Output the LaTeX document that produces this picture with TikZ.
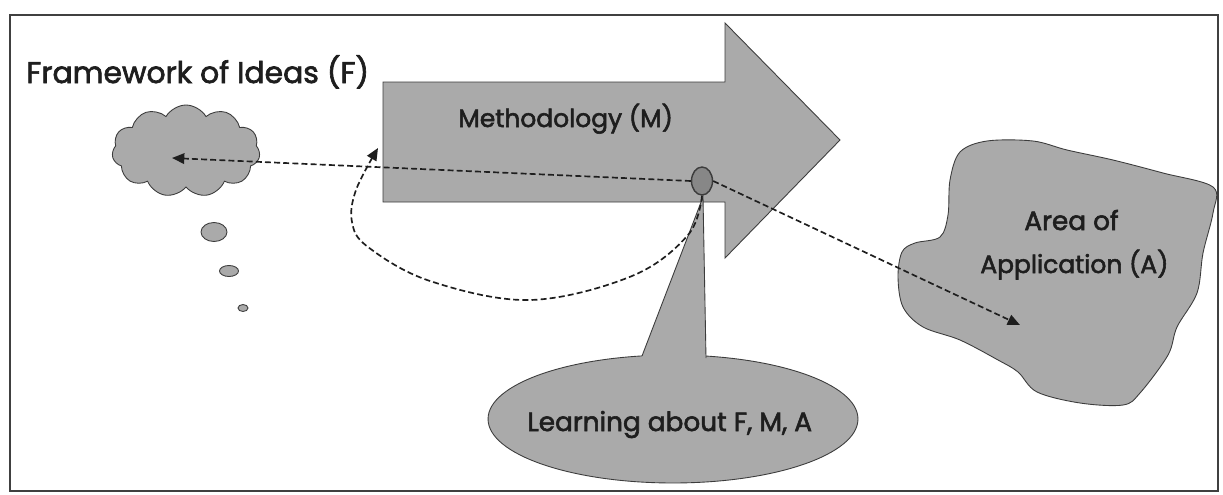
\documentclass[tikz,border=0pt]{standalone}
\usepackage{fontspec}
\setmainfont{Poppins}
\newfontfamily\labelfont{Poppins}[FakeBold=2.2]
\usetikzlibrary{shapes.geometric,shapes.symbols,arrows.meta}
\definecolor{boxgray}{RGB}{170,170,170}
\definecolor{dotfill}{RGB}{135,135,135}
\definecolor{edge}{RGB}{60,60,60}
\definecolor{ink}{RGB}{30,30,30}
\begin{document}
\begin{tikzpicture}[x=0.02cm,y=-0.02cm,
  shapefill/.style={fill=boxgray, draw=edge, line width=0.5pt},
  flow/.style={dash pattern=on 3.4pt off 1.8pt, line width=0.95pt, draw=ink,
    -{Triangle[length=7pt,width=6pt]}},
  lbl/.style={font=\labelfont\fontsize{15}{18}\selectfont, text=ink, inner sep=0pt, anchor=base west}]
\useasboundingbox (0,0) rectangle (1223,494);
\fill[white] (0,0) rectangle (1223,494);
% outer frame
\draw[line width=1pt, black!75] (10,15) rectangle (1218,491);

% title
\node[lbl, font=\labelfont\fontsize{17}{20}\selectfont] (title) at (26,83) {Framework of Ideas (F)};

% thought cloud and its trail of bubbles
\node[cloud, cloud puffs=11, cloud puff arc=120, aspect=1.6,
      minimum width=2.96cm, minimum height=1.84cm, inner sep=0pt, shapefill] (F) at (186,151) {};
\node[ellipse, shapefill, minimum width=0.52cm, minimum height=0.38cm, inner sep=0pt] (b1) at (214,232) {};
\node[ellipse, shapefill, minimum width=0.38cm, minimum height=0.22cm, inner sep=0pt] (b2) at (229,271) {};
\node[ellipse, shapefill, minimum width=0.20cm, minimum height=0.14cm, inner sep=0pt] (b3) at (243,308) {};

% methodology block arrow
\coordinate (m1) at (383,82);
\coordinate (m2) at (725,82);
\coordinate (m3) at (725,23);
\coordinate (mtip) at (840,140);
\coordinate (m4) at (725,258);
\coordinate (m5) at (725,202);
\coordinate (m6) at (383,202);
\draw[shapefill] (m1) -- (m2) -- (m3) -- (mtip) -- (m4) -- (m5) -- (m6) -- cycle;
\node[lbl, font=\labelfont\fontsize{14.2}{17}\selectfont] (M) at (458,127) {Methodology (M)};

% area of application
\draw[shapefill] plot[smooth cycle, tension=0.55] coordinates {
  (960,152) (987,141) (1033,141) (1067,150) (1113,160) (1163,173) (1213,187)
  (1213,213) (1203,253) (1197,293) (1177,327) (1168,355) (1140,393) (1123,405)
  (1080,403) (1037,392) (1018,372) (998,360) (960,340) (923,327) (903,307)
  (898,277) (902,252) (915,243) (940,237) (948,215) (950,180)};
\node[lbl] (A1) at (1024,230) {Area of};
\node[lbl, font=\labelfont\fontsize{14.2}{17}\selectfont] (A2) at (980,273) {Application (A)};

% speech bubble for learning
\node[ellipse, shapefill, minimum width=7.4cm, minimum height=2.56cm, inner sep=0pt] (L) at (673,419) {};
\coordinate (w0) at (703,197);
\coordinate (wl) at (642,356);
\coordinate (wr) at (706,358);
\fill[boxgray] (w0) -- (wl) -- (640,362) -- (708,362) -- (wr) -- cycle;
\draw[edge, line width=0.5pt] (wl) -- (w0) -- (wr);
\node[lbl] (Ltext) at (527,431) {Learning about F, M, A};

% learning point on the arrow
\node[ellipse, fill=dotfill, draw=edge, line width=0.8pt, minimum width=0.42cm,
      minimum height=0.56cm, inner sep=0pt] (C) at (702,181) {};

% flows out of the learning point
\coordinate (Ftip) at (172,158);
\coordinate (Atip) at (1020,325);
\draw[flow] (C.west) -- (Ftip);
\draw[flow] (C.east) -- (Atip);
\draw[flow] plot[smooth, tension=0.6] coordinates {
  (C.south) (688,235) (632,276) (530,300) (430,281) (368,247) (352,222) (356,190) (378,148)};
\end{tikzpicture}
\end{document}
